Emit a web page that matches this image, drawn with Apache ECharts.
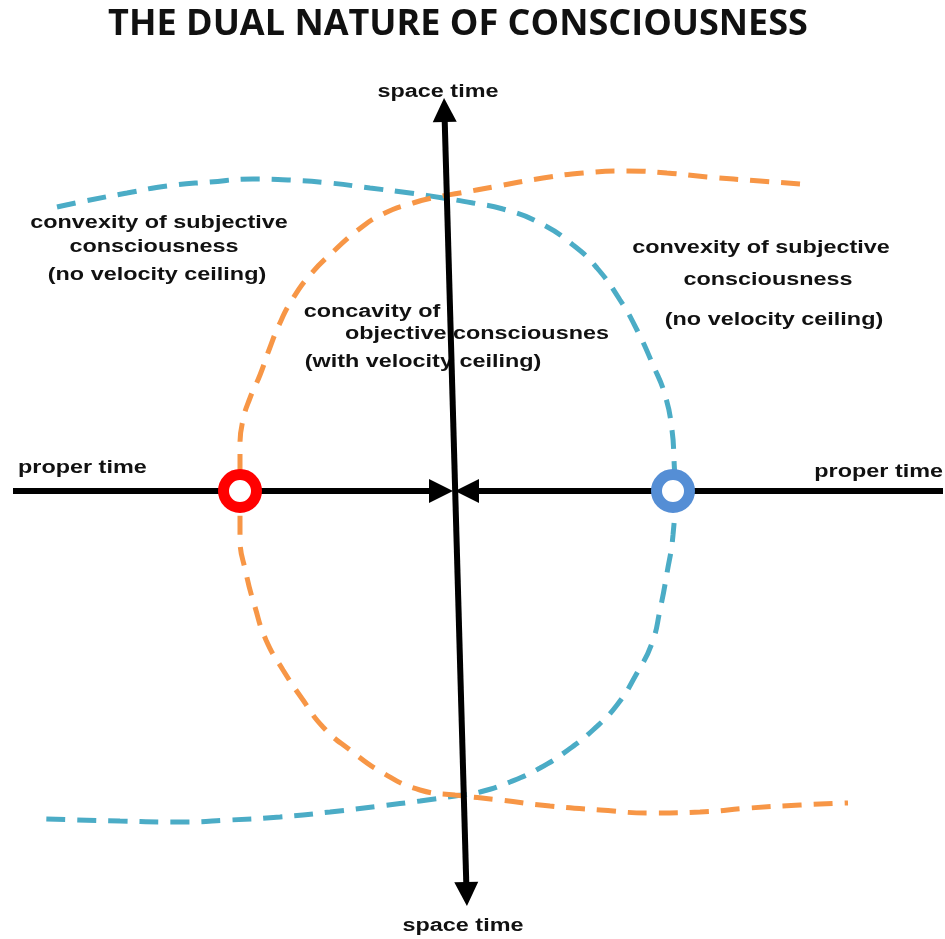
<!DOCTYPE html>
<html>
<head>
<meta charset="utf-8">
<script src="https://cdn.jsdelivr.net/npm/echarts@6/dist/echarts.min.js"></script>
<style>html,body{margin:0;padding:0;background:#fff;}#c{width:945px;height:939px;}</style>
</head>
<body>
<div id="c"></div>
<script>
// ---- data (diagram coordinates) ----
const chartTitle = 'THE DUAL NATURE OF CONSCIOUSNESS';
const blueCurve = [[57,207],[85,201],[127,193],[167,186],[210,182],[253,179],[290,180],[330,183],[370,188],[410,193],[443,198],[473,203],[503,209],[540,223],[573,245],[597,268],[620,300],[637,330],[653,365],[665,395],[672,430],[674,460],[675,492],[673,535],[667,573],[660,610],[652,643],[637,673],[617,705],[593,730],[568,750],[540,768],[510,782],[480,792],[455,796],[420,801],[380,806],[330,812],[280,817],[230,820],[180,822],[120,821],[45,819]];
const orangeCurve = [[800,184],[760,181],[707,177],[667,173],[627,171],[583,173],[543,178],[493,187],[460,193],[437,197],[413,203],[383,214],[358,230],[335,250],[310,275],[292,300],[279,325],[269,350],[260,375],[250,398],[243,420],[240,445],[240,492],[240,537],[246,573],[255,607],[266,640],[283,670],[303,700],[323,727],[350,750],[383,773],[420,790],[455,795],[500,800],[550,806],[600,810],[650,813],[700,812],[750,808],[800,805],[848,803]];
const leftAxis = [[13,491],[441,491]];
const rightAxis = [[943,491],[467,491]];
const verticalAxis = [[444.4,110],[466.6,894]];
const redPoint = [240,491];
const bluePoint = [673,491];
const axisLabels = ['proper time','proper time','space time','space time'];
const leftNote = ['convexity of subjective','consciousness','(no velocity ceiling)'];
const rightNote = ['convexity of subjective','consciousness','(no velocity ceiling)'];
const centerNote = ['concavity of','objective consciousnes','(with velocity ceiling)'];

const chart = echarts.init(document.getElementById('c'), null, {renderer:'canvas'});
const FONT = '700 18px "Liberation Sans", Arial, sans-serif';
const SX = 1.3;
function txt(t, x, y, align){
  return {type:'text', x:x, y:y, scaleX:SX, z:0,
    style:{text:t, font:FONT, fill:'#111111', textAlign:align||'center', textVerticalAlign:'middle'}};
}
const graphics = [
  txt(axisLabels[0], 18, 468, 'left'),
  txt(axisLabels[1], 943, 472, 'right'),
  txt(axisLabels[2], 438, 92),
  txt(axisLabels[3], 463, 926),
  txt(leftNote[0], 159, 223), txt(leftNote[1], 154, 247), txt(leftNote[2], 157, 275),
  txt(rightNote[0], 761, 248), txt(rightNote[1], 768, 280), txt(rightNote[2], 774, 320),
  txt(centerNote[0], 372, 312), txt(centerNote[1], 477, 334), txt(centerNote[2], 423, 362)
];
const dashed = (color) => ({color:color, width:5, type:[19,12], cap:'butt'});
const option = {
  animation:false,
  backgroundColor:'#ffffff',
  title:{text:chartTitle, left:453, top:2, textAlign:'center',
    textStyle:{fontFamily:'"Open Sans", sans-serif', fontWeight:700, fontSize:36, color:'#111'}},
  grid:{left:0,right:0,top:0,bottom:0},
  xAxis:{type:'value', min:0, max:945, show:false},
  yAxis:{type:'value', min:0, max:939, inverse:true, show:false},
  graphic:graphics,
  series:[
    {type:'line', data:blueCurve, smooth:0.5, showSymbol:false, lineStyle:dashed('#4bacc6'), z:2},
    {type:'line', data:orangeCurve, smooth:0.5, showSymbol:false, lineStyle:dashed('#f79646'), z:2},
    {type:'lines', coordinateSystem:'cartesian2d', z:3,
      symbol:['none','triangle'], symbolSize:24,
      lineStyle:{color:'#000', width:6, opacity:1, curveness:0},
      data:[{coords:leftAxis},{coords:rightAxis}]},
    {type:'lines', coordinateSystem:'cartesian2d', z:3,
      symbol:['triangle','triangle'], symbolSize:24,
      lineStyle:{color:'#000', width:6, opacity:1, curveness:0},
      data:[{coords:verticalAxis}]},
    {type:'scatter', z:4, symbol:'circle', symbolSize:33,
      itemStyle:{opacity:1},
      data:[{value:redPoint, itemStyle:{color:'#fff', borderColor:'#ff0000', borderWidth:11, opacity:1}},
            {value:bluePoint, itemStyle:{color:'#fff', borderColor:'#558ed5', borderWidth:11, opacity:1}}]}
  ]
};
chart.setOption(option);
</script>
</body>
</html>
